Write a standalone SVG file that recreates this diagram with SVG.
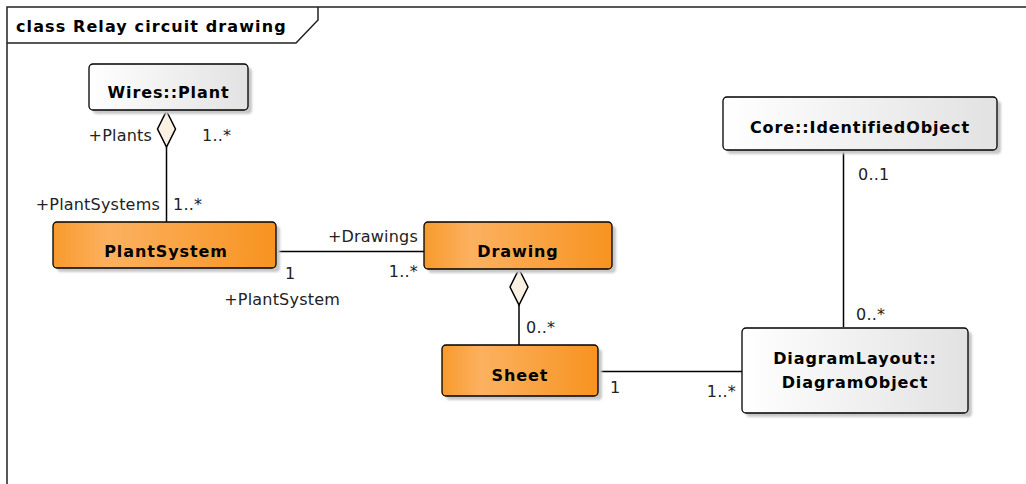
<svg xmlns="http://www.w3.org/2000/svg" width="1026" height="484" viewBox="0 0 1026 484">
  <defs>
    <linearGradient id="gOrange" x1="0" y1="0" x2="1" y2="0">
      <stop offset="0" stop-color="#f79a2c"/>
      <stop offset="0.25" stop-color="#fcb160"/>
      <stop offset="1" stop-color="#f79320"/>
    </linearGradient>
    <linearGradient id="gGrey" x1="0" y1="0" x2="1" y2="0">
      <stop offset="0" stop-color="#ffffff"/>
      <stop offset="1" stop-color="#e2e2e2"/>
    </linearGradient>
    <filter id="soft" x="-10%" y="-10%" width="120%" height="130%">
      <feGaussianBlur stdDeviation="1.2"/>
    </filter>
  </defs>
  <style>
    .shadow { fill: #c8c8c8; filter: url(#soft); }
    .orange { fill: url(#gOrange); stroke: #000; stroke-width: 1.3; }
    .grey { fill: url(#gGrey); stroke: #000; stroke-width: 1.3; }
    .name { font-family: "DejaVu Sans", "Liberation Sans", sans-serif; font-weight: bold; font-size: 16px; letter-spacing: 0.9px; text-anchor: middle; fill: #000; }
    .lbl { font-family: "DejaVu Sans", "Liberation Sans", sans-serif; font-size: 16px; letter-spacing: 0.2px; fill: #222; }
    .line { fill: none; stroke: #000; stroke-width: 1.5; }
    .diamond { fill: #fbf1e2; stroke: #000; stroke-width: 1.5; }
    .frame { fill: none; stroke: #222; stroke-width: 1.5; }
    .title { font-family: "DejaVu Sans", "Liberation Sans", sans-serif; font-weight: bold; font-size: 16px; letter-spacing: 1.1px; fill: #000; }
  </style>

  <rect width="1026" height="484" fill="#ffffff"/>

  <!-- diagram frame with name tab -->
  <g id="frame">
    <path class="frame" d="M7,484 V7 H1026"/>
    <path class="frame" d="M7,43 H296 L318,20 V7"/>
    <text class="title" x="16" y="32">class Relay circuit drawing</text>
  </g>

  <!-- associations -->
  <g id="connectors">
    <path class="line" d="M166.5,147 V222"/>
    <path class="diamond" d="M166.5,111 L175.5,129 L166.5,147 L157.5,129 Z"/>
    <path class="line" d="M276,251.5 H424"/>
    <path class="line" d="M519,305 V345"/>
    <path class="diamond" d="M519,269 L528,287 L519,305 L510,287 Z"/>
    <path class="line" d="M598,371.5 H742"/>
    <path class="line" d="M843.5,150 V327"/>
  </g>

  <!-- association end labels -->
  <g id="labels">
    <text class="lbl" x="152" y="141" text-anchor="end">+Plants</text>
    <text class="lbl" x="202" y="141">1..*</text>
    <text class="lbl" x="160" y="210" text-anchor="end">+PlantSystems</text>
    <text class="lbl" x="173" y="210">1..*</text>
    <text class="lbl" x="418" y="242" text-anchor="end">+Drawings</text>
    <text class="lbl" x="418" y="277" text-anchor="end">1..*</text>
    <text class="lbl" x="285" y="279">1</text>
    <text class="lbl" x="340" y="305" text-anchor="end">+PlantSystem</text>
    <text class="lbl" x="526" y="333">0..*</text>
    <text class="lbl" x="610" y="393">1</text>
    <text class="lbl" x="736" y="397" text-anchor="end">1..*</text>
    <text class="lbl" x="858" y="180">0..1</text>
    <text class="lbl" x="856" y="320">0..*</text>
  </g>

  <g id="node-wires-plant">
    <rect class="shadow" x="93" y="68" width="159" height="46" rx="4"/>
    <rect class="grey" x="89" y="64" width="159" height="46" rx="4"/>
    <text class="name" x="168.5" y="98">Wires::Plant</text>
  </g>

  <g id="node-plantsystem">
    <rect class="shadow" x="57" y="226" width="223" height="46" rx="4"/>
    <rect class="orange" x="53" y="222" width="223" height="46" rx="4"/>
    <text class="name" x="166" y="257">PlantSystem</text>
  </g>

  <g id="node-drawing">
    <rect class="shadow" x="428" y="226" width="188" height="47" rx="4"/>
    <rect class="orange" x="424" y="222" width="188" height="47" rx="4"/>
    <text class="name" x="518" y="257">Drawing</text>
  </g>

  <g id="node-sheet">
    <rect class="shadow" x="446" y="349" width="156" height="51" rx="4"/>
    <rect class="orange" x="442" y="345" width="156" height="51" rx="4"/>
    <text class="name" x="520" y="381">Sheet</text>
  </g>

  <g id="node-core-identifiedobject">
    <rect class="shadow" x="727" y="101" width="274" height="53" rx="4"/>
    <rect class="grey" x="723" y="97" width="274" height="53" rx="4"/>
    <text class="name" x="860" y="133">Core::IdentifiedObject</text>
  </g>

  <g id="node-diagramobject">
    <rect class="shadow" x="746" y="332" width="226" height="85" rx="4"/>
    <rect class="grey" x="742" y="328" width="226" height="85" rx="4"/>
    <text class="name" x="855" y="364">DiagramLayout::</text>
    <text class="name" x="855" y="388">DiagramObject</text>
  </g>
</svg>
